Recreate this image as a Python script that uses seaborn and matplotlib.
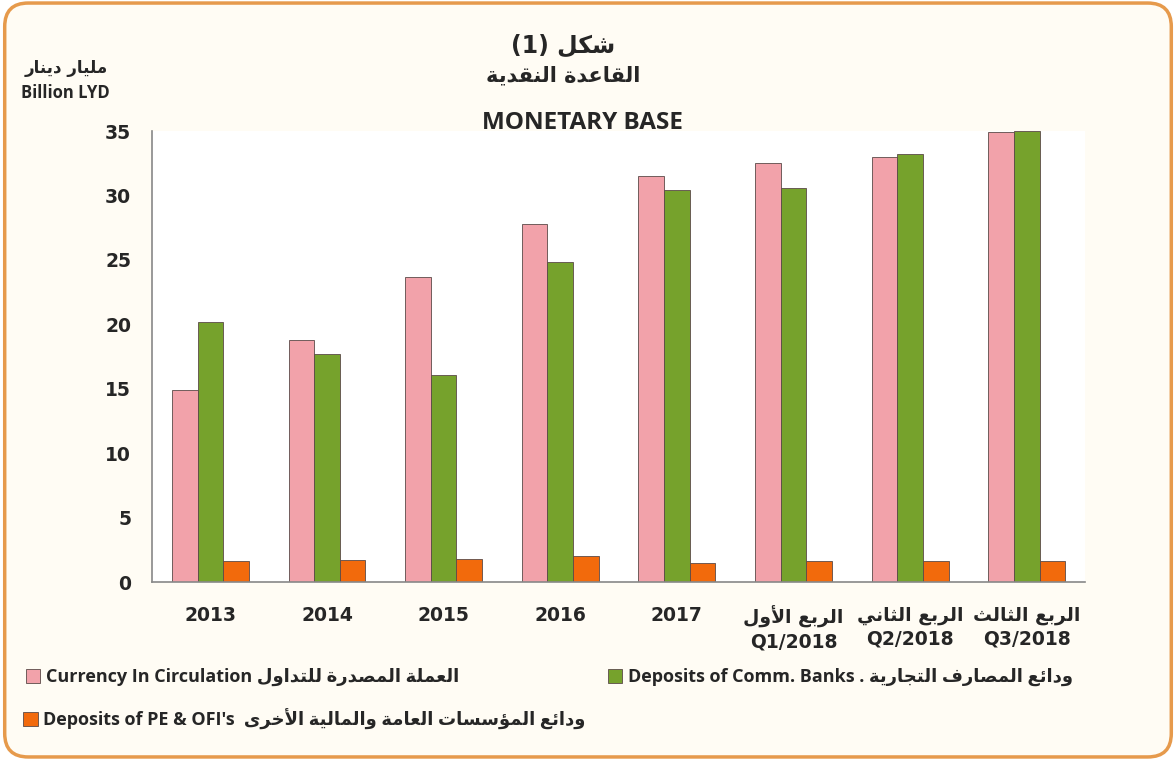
import matplotlib
matplotlib.use('Agg')
import matplotlib.pyplot as plt
import seaborn as sns
import pandas as pd
from matplotlib.patches import FancyBboxPatch

# data (billion LYD)
periods = ['2013', '2014', '2015', '2016', '2017', 'Q1/2018', 'Q2/2018', 'Q3/2018']
currency = [14.9, 18.8, 23.7, 27.8, 31.5, 32.5, 33.0, 34.9]
deposits_banks = [20.2, 17.7, 16.1, 24.8, 30.4, 30.6, 33.2, 35.0]
deposits_pe = [1.6, 1.7, 1.8, 2.0, 1.45, 1.6, 1.6, 1.6]
quarter_ar = {'Q1/2018': 'الربع الأول', 'Q2/2018': 'الربع الثاني', 'Q3/2018': 'الربع الثالث'}
y_ticks = [0, 5, 10, 15, 20, 25, 30, 35]

# minimal Arabic shaping: presentation forms + visual (reversed) order,
# matplotlib does no complex text layout on its own
AR4 = {'ب': 0xFE8F, 'ت': 0xFE95, 'ث': 0xFE99, 'ج': 0xFE9D, 'ح': 0xFEA1, 'خ': 0xFEA5,
       'س': 0xFEB1, 'ش': 0xFEB5, 'ص': 0xFEB9, 'ض': 0xFEBD, 'ط': 0xFEC1, 'ظ': 0xFEC5,
       'ع': 0xFEC9, 'غ': 0xFECD, 'ف': 0xFED1, 'ق': 0xFED5, 'ك': 0xFED9, 'ل': 0xFEDD,
       'م': 0xFEE1, 'ن': 0xFEE5, 'ه': 0xFEE9, 'ي': 0xFEF1, 'ئ': 0xFE89}
AR2 = {'ا': 0xFE8D, 'أ': 0xFE83, 'د': 0xFEA9, 'ذ': 0xFEAB, 'ر': 0xFEAD, 'ز': 0xFEAF,
       'و': 0xFEED, 'ة': 0xFE93, 'ى': 0xFEEF, 'ؤ': 0xFE85,
       '\ufef7': 0xFEF7, '\ufefb': 0xFEFB}


def ar(text):
    text = text.replace('لأ', '\ufef7').replace('لا', '\ufefb')
    out = []
    for i, ch in enumerate(text):
        prev = text[i - 1] if i > 0 else ''
        nxt = text[i + 1] if i + 1 < len(text) else ''
        jp = prev in AR4
        if ch in AR4:
            jn = nxt in AR4 or nxt in AR2
            out.append(chr(AR4[ch] + int(jp) + 2 * int(jn)))
        elif ch in AR2:
            out.append(chr(AR2[ch] + int(jp)))
        else:
            out.append(ch)
    return ''.join(reversed(out))


series_names = ['Currency In Circulation ' + ar('العملة المصدرة للتداول'),
                'Deposits of Comm. Banks . ' + ar('ودائع المصارف التجارية'),
                "Deposits of PE & OFI's  " + ar('ودائع المؤسسات العامة والمالية الأخرى')]
colors = ['#f2a2aa', '#76a22c', '#f26a0c']

df = pd.DataFrame({
    'period': periods * 3,
    'value': currency + deposits_banks + deposits_pe,
    'series': [series_names[0]] * 8 + [series_names[1]] * 8 + [series_names[2]] * 8,
})

sns.set_style('white')
plt.rcParams['font.family'] = ['DejaVu Sans']
LATIN = ['Open Sans', 'DejaVu Sans']

fig = plt.figure(figsize=(11.76, 7.6), dpi=100)
fig.patch.set_facecolor('white')
border = FancyBboxPatch((0.004, 0.004), 0.992, 0.992, boxstyle='round,pad=0,rounding_size=0.02',
                        transform=fig.transFigure, facecolor='#fffcf4', edgecolor='#e69a4c',
                        linewidth=2.5, zorder=-10, mutation_aspect=1176 / 760)
fig.patches.append(border)

ax = fig.add_axes([0.1293, 0.2342, 0.7934, 0.5934])
ax.set_facecolor('white')
sns.barplot(data=df, x='period', y='value', hue='series', palette=colors, width=0.66,
            saturation=1, edgecolor='#5b4a48', linewidth=0.6, ax=ax)

handles, labels = ax.get_legend_handles_labels()
ax.legend_.remove()

ax.set_ylim(0, 35)
ax.set_xlim(-0.5, 7.5)
ax.set_yticks(y_ticks)
ax.set_yticklabels([str(t) for t in y_ticks], fontsize=13.5, fontweight='bold')
ticklabels = [p if p not in quarter_ar else ar(quarter_ar[p]) + '\n' + p for p in periods]
ax.set_xticks(range(len(periods)))
ax.set_xticklabels(ticklabels, fontsize=13.5, fontweight='bold', linespacing=1.3)
ax.set_xticks([i - 0.5 for i in range(len(periods) + 1)], minor=True)
ax.tick_params(axis='x', which='major', length=0, pad=17)
ax.tick_params(axis='x', which='minor', length=4, color='#888888', direction='out')
ax.tick_params(axis='y', length=5, color='#888888', direction='out', pad=10)
ax.set_xlabel('')
ax.set_ylabel('')
sns.despine(ax=ax, top=True, right=True)
for side in ['left', 'bottom']:
    ax.spines[side].set_color('#888888')
    ax.spines[side].set_linewidth(1.2)

# titles
fig.text(0.479, 0.94, '(1) ' + ar('شكل'), ha='center', va='center', fontsize=17, fontweight='bold')
fig.text(0.479, 0.901, ar('القاعدة النقدية'), ha='center', va='center', fontsize=15, fontweight='bold')
fig.text(0.495, 0.838, 'MONETARY BASE', ha='center', va='center', fontsize=17.5, fontweight='bold',
         family=LATIN)
fig.text(0.056, 0.911, ar('مليار دينار'), ha='center', va='center', fontsize=12, fontweight='bold')
fig.text(0.056, 0.878, 'Billion LYD', ha='center', va='center', fontsize=12, fontweight='bold',
         family=LATIN)

# legend, placed item by item like the original
legend_pos = [(0.008, 0.109), (0.503, 0.109), (0.006, 0.054)]
for h, lab, pos in zip(handles, labels, legend_pos):
    lg = fig.legend([h], [lab], loc='center left', bbox_to_anchor=pos, frameon=False,
                    handlelength=0.8, handleheight=0.8, handletextpad=0.3,
                    prop={'family': LATIN, 'weight': 'bold', 'size': 13})

fig.savefig('out.png', dpi=100, facecolor=fig.get_facecolor())
